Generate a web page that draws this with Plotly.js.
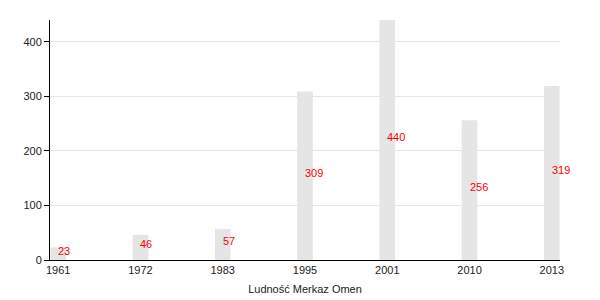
<!DOCTYPE html>
<html>
<head>
<meta charset="utf-8">
<script src="https://cdn.plot.ly/plotly-3.0.1.min.js"></script>
<style>html,body{margin:0;padding:0;background:#fff;}#chart{width:600px;height:300px;}</style>
</head>
<body>
<div id="chart"></div>
<script>
const years = ["1961", "1972", "1983", "1995", "2001", "2010", "2013"];
const population = [23, 46, 57, 309, 440, 256, 319];

const bars = {
  type: 'bar',
  x: years,
  y: population,
  width: 0.19,
  marker: {color: '#e5e5e5', line: {width: 0}},
  hoverinfo: 'skip',
  showlegend: false
};
const annotations = years.map((yr, i) => ({
  x: i, y: population[i] / 2,
  xref: 'x', yref: 'y',
  text: String(population[i]),
  showarrow: false,
  xanchor: 'left', yanchor: 'middle',
  xshift: -2, yshift: 3,
  font: {family: 'Liberation Sans, Arial, sans-serif', size: 11, color: '#ff0000'}
}));
const layout = {
  width: 600, height: 300,
  margin: {l: 50, r: 40, t: 20, b: 40},
  paper_bgcolor: '#fff', plot_bgcolor: '#fff',
  font: {family: 'Liberation Sans, Arial, sans-serif', size: 11, color: '#222'},
  xaxis: {
    type: 'category',
    range: [-0.1, 6.1],
    showline: true, linecolor: '#000', linewidth: 1,
    showgrid: false, ticks: '', zeroline: false,
    tickfont: {size: 11, color: '#222'},
    title: {text: 'Ludność Merkaz Omen', font: {size: 11, color: '#222'}, standoff: 10}
  },
  yaxis: {
    range: [0, 440],
    tickvals: [0, 100, 200, 300, 400],
    showline: true, linecolor: '#000', linewidth: 1,
    showgrid: true, gridcolor: '#e6e6e6', gridwidth: 1,
    zeroline: false,
    ticks: 'outside', ticklen: 5, tickcolor: '#000',
    tickfont: {size: 11, color: '#222'}
  },
  annotations: annotations
};
Plotly.newPlot('chart', [bars], layout, {staticPlot: true, displayModeBar: false});
</script>
</body>
</html>
